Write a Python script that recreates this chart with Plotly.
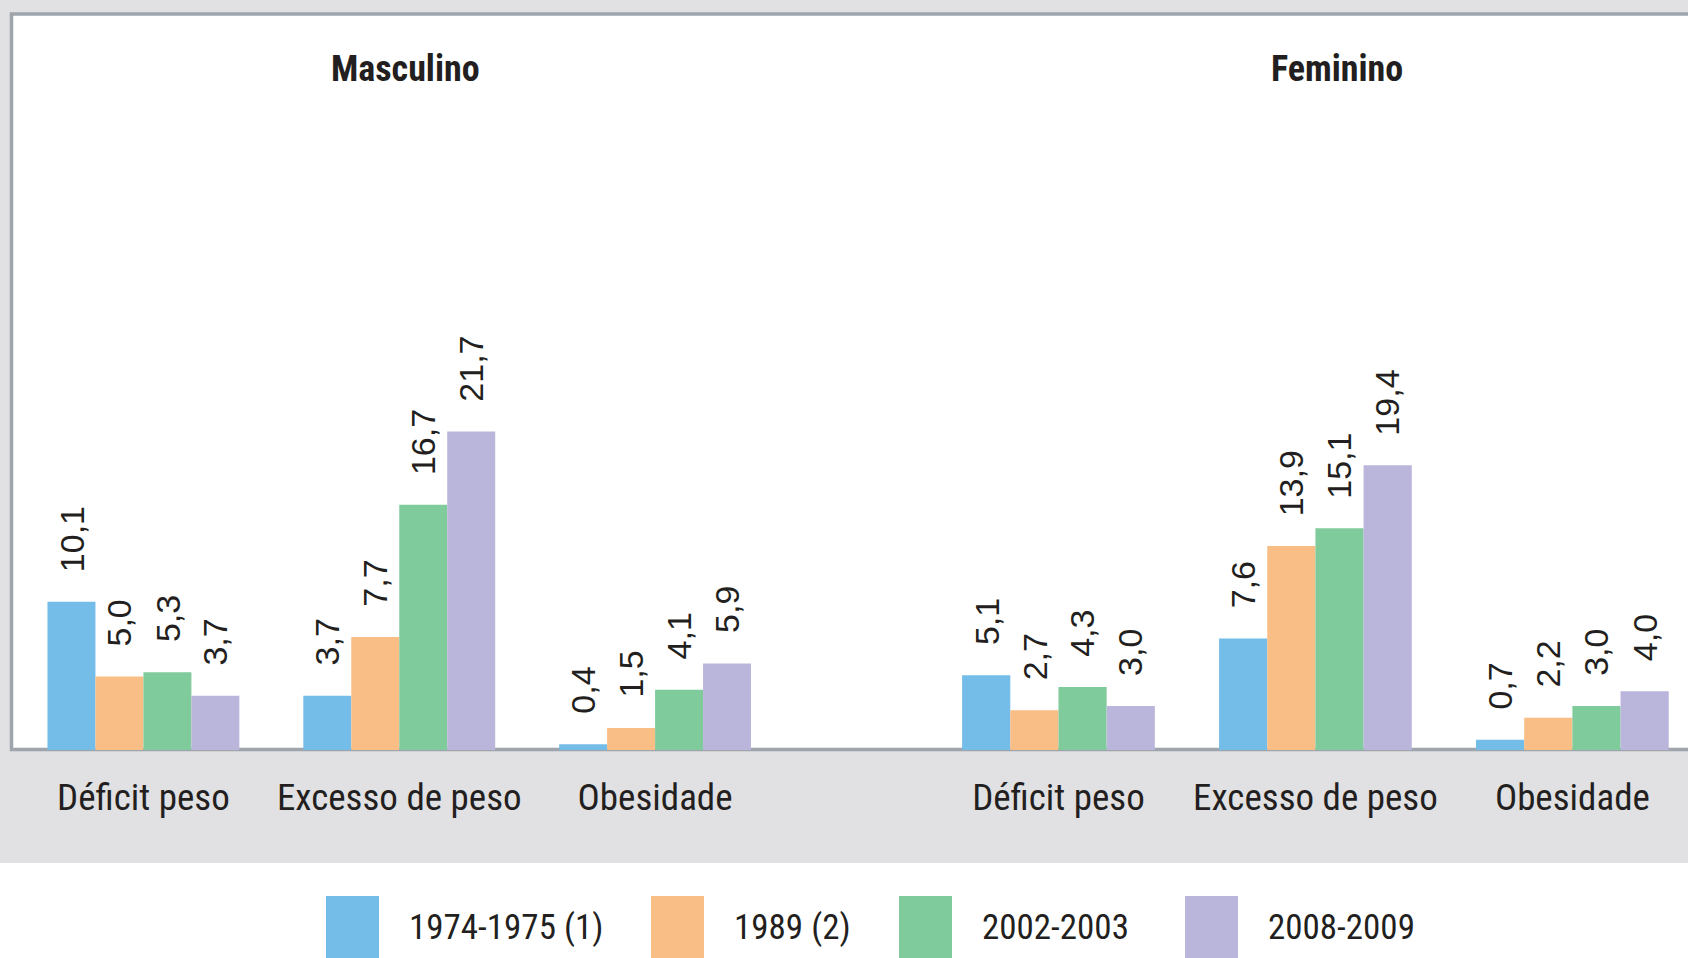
import plotly.graph_objects as go
from plotly.subplots import make_subplots

categorias = ["Déficit peso", "Excesso de peso", "Obesidade"]
sexos = ["Masculino", "Feminino"]
periodos = ["1974-1975 (1)", "1989 (2)", "2002-2003", "2008-2009"]

masculino = {
    "1974-1975 (1)": [10.1, 3.7, 0.4],
    "1989 (2)": [5.0, 7.7, 1.5],
    "2002-2003": [5.3, 16.7, 4.1],
    "2008-2009": [3.7, 21.7, 5.9],
}
feminino = {
    "1974-1975 (1)": [5.1, 7.6, 0.7],
    "1989 (2)": [2.7, 13.9, 2.2],
    "2002-2003": [4.3, 15.1, 3.0],
    "2008-2009": [3.0, 19.4, 4.0],
}

cores = ["#74bde8", "#f9bd86", "#80cb9c", "#bab5db"]
cinza = "#e1e1e3"
moldura = "#9ea5ad"
texto = "#231f20"
narrow = "Liberation Sans Narrow, Roboto Condensed, DejaVu Sans Condensed, Liberation Sans, sans-serif"

W, H = 1688, 958
base_px = 750
topo_px = 16

fig = make_subplots(rows=1, cols=2, shared_yaxes=False)

# deslocamento horizontal de cada série dentro do grupo (px)
largura_barra = 48
offsets = [(i - 1.5) * largura_barra for i in range(len(periodos))]

for col, dados in ((1, masculino), (2, feminino)):
    for i, p in enumerate(periodos):
        fig.add_trace(
            go.Bar(
                x=categorias,
                y=dados[p],
                name=p,
                marker=dict(color=cores[i], line=dict(width=0)),
                showlegend=False,
                hoverinfo="skip",
            ),
            row=1,
            col=col,
        )
        xref = "x" if col == 1 else "x2"
        yref = "y" if col == 1 else "y2"
        for cat, v in zip(categorias, dados[p]):
            fig.add_annotation(
                x=cat, y=v, xref=xref, yref=yref,
                text=f"{v:.1f}".replace(".", ","),
                textangle=-90, showarrow=False,
                xanchor="center", yanchor="bottom",
                xshift=offsets[i], yshift=28,
                font=dict(family="Liberation Sans, Arial, sans-serif", size=34, color=texto),
            )

ydom = [(H - base_px) / H, (H - topo_px) / H]
fig.update_yaxes(range=[0, 50], domain=ydom, visible=False)
fig.update_xaxes(
    showline=False, showgrid=False, zeroline=False,
    ticks="outside", ticklen=15, tickcolor="rgba(0,0,0,0)",
    tickfont=dict(family=narrow, size=37, color=texto),
)
fig.update_layout(
    xaxis=dict(domain=[15.5 / W, 783 / W], range=[-0.5, 2.5]),
    xaxis2=dict(domain=[930 / W, 1.0], range=[-0.5, 2.45]),
)

# títulos dos painéis
for nome, cx in zip(sexos, [405, 1337]):
    fig.add_annotation(
        x=cx / W, y=(H - 69) / H, xref="paper", yref="paper",
        xanchor="center", yanchor="middle",
        text=f"<b>{nome}</b>", showarrow=False,
        font=dict(family=narrow, size=36, color=texto),
    )

# fundo branco da área do gráfico com moldura
fig.add_shape(
    type="rect", xref="paper", yref="paper", layer="below",
    x0=11.5 / W, x1=1.02, y0=(H - 749.5) / H, y1=(H - 14) / H,
    fillcolor="white", line=dict(color=moldura, width=3.5),
)
# área branca da legenda
fig.add_shape(
    type="rect", xref="paper", yref="paper", layer="below",
    x0=0, x1=1, y0=0, y1=(H - 863) / H,
    fillcolor="white", line=dict(width=0),
)

# legenda
swatch_x = [326, 651, 899, 1185]
for i, p in enumerate(periodos):
    x0 = swatch_x[i]
    fig.add_shape(
        type="rect", xref="paper", yref="paper",
        x0=x0 / W, x1=(x0 + 53) / W, y0=-0.01, y1=(H - 896) / H,
        fillcolor=cores[i], line=dict(width=0),
    )
    fig.add_annotation(
        x=(x0 + 81) / W, y=(H - 927) / H, xref="paper", yref="paper",
        text=p, showarrow=False, xanchor="left", yanchor="middle",
        font=dict(family=narrow, size=35, color=texto),
    )

fig.update_layout(
    width=W, height=H,
    margin=dict(l=0, r=0, t=0, b=0),
    paper_bgcolor=cinza,
    plot_bgcolor="rgba(0,0,0,0)",
    barmode="group",
    bargap=0.25,
    bargroupgap=0,
    showlegend=False,
)

fig.write_html(
    "out.html",
    config={"displayModeBar": False},
    post_script="document.body.style.margin='0';document.body.style.overflow='hidden';",
)
